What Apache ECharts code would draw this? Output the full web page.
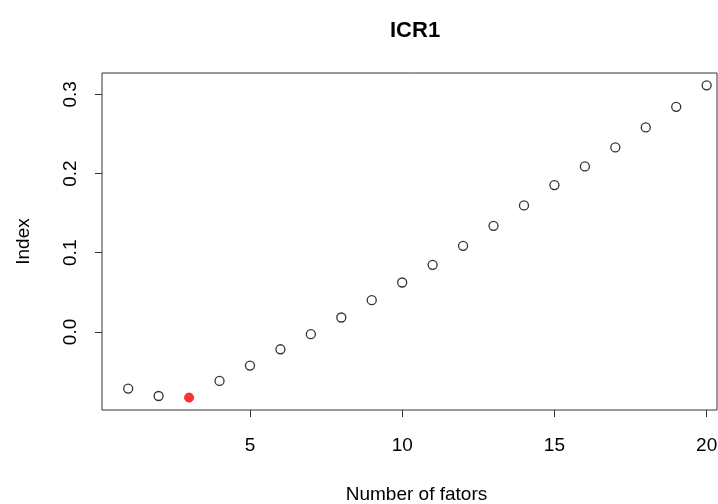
<!DOCTYPE html>
<html><head><meta charset="utf-8">
<script src="https://cdn.jsdelivr.net/npm/echarts@6/dist/echarts.min.js"></script>
<style>html,body{margin:0;padding:0;background:#fff}#c{width:718px;height:504px}</style>
</head><body><div id="c"></div>
<script>
var factors = [1,2,3,4,5,6,7,8,9,10,11,12,13,14,15,16,17,18,19,20];
var indexValues = [-0.0715,-0.0809,-0.0829,-0.0619,-0.0425,-0.0219,-0.0029,0.0182,0.0401,0.0624,0.0847,0.1087,0.1340,0.1597,0.1854,0.2090,0.2330,0.2583,0.2843,0.3114];
var bestFactor = 3;
var xTicks = [5,10,15,20];
var yTicks = [0.0,0.1,0.2,0.3];

var openPts = [], bestPts = [];
factors.forEach(function(f,i){
  if (f === bestFactor) bestPts.push([f, indexValues[i]]);
  else openPts.push([f, indexValues[i]]);
});
var font = 'Liberation Sans, Arial, sans-serif';
var chart = echarts.init(document.getElementById('c'));
chart.setOption({
  animation:false,
  title:{text:'ICR1', left:385, top:15,
    textStyle:{fontFamily:font, fontSize:22, fontWeight:'bold', color:'#000'}},
  grid:{left:102, right:1, top:73, bottom:94, outerBoundsMode:'none', containLabel:false,
    show:true, borderColor:'#333', borderWidth:1, backgroundColor:'transparent'},
  xAxis:{type:'value', min:0.14, max:20.34,
    name:'Number of fators', nameLocation:'middle', nameGap:75,
    nameTextStyle:{fontFamily:font, fontSize:19, color:'#000', padding:[0,0,0,14]},
    axisLine:{show:false, onZero:false},
    splitLine:{show:false},
    axisTick:{show:true, length:7, customValues:xTicks, lineStyle:{color:'#333'}},
    axisLabel:{customValues:xTicks, margin:26, fontFamily:font, fontSize:19, color:'#000'}
  },
  yAxis:{type:'value', min:-0.0986, max:0.327,
    name:'Index', nameLocation:'middle', nameGap:69, nameRotate:90,
    nameTextStyle:{fontFamily:font, fontSize:19, color:'#000'},
    axisLine:{show:false, onZero:false},
    splitLine:{show:false},
    axisTick:{show:true, length:7, customValues:yTicks, lineStyle:{color:'#333'}},
    axisLabel:{customValues:yTicks, rotate:90, margin:22, fontFamily:font, fontSize:19, color:'#000',
      formatter:function(v){return v.toFixed(1);}}
  },
  series:[
    {type:'scatter', data:openPts, symbol:'circle', symbolSize:9,
      itemStyle:{color:'#fff', borderColor:'#000', borderWidth:1.3}},
    {type:'scatter', data:bestPts, symbol:'circle', symbolSize:9,
      itemStyle:{color:'#ff0000', borderColor:'#ff0000', borderWidth:1}}
  ]
});
</script></body></html>
